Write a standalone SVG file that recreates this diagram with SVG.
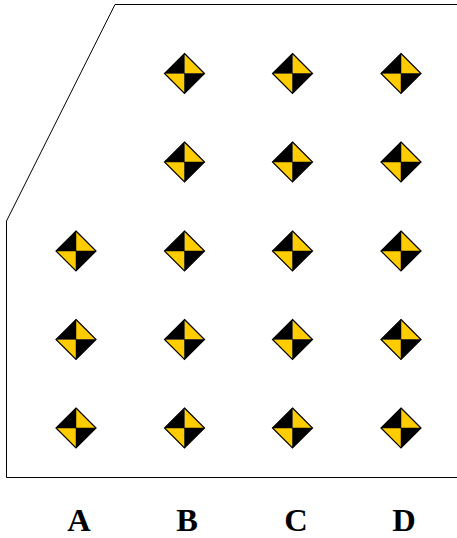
<svg xmlns="http://www.w3.org/2000/svg" width="457" height="538" viewBox="0 0 457 538">
<style>
.frame{fill:none;stroke:#000;stroke-width:1}
.k{fill:#000}
.y{fill:#ffcc00}
.o{fill:none;stroke:#000;stroke-width:1.2}
.c{fill:none;stroke:#000;stroke-width:.5}
.lab{font-family:"Liberation Serif",serif;font-weight:bold;font-size:32.5px;text-anchor:middle;fill:#000}
</style>
<defs>
<g id="m">
<path class="k" d="M0-20L-20 0H0Z"/>
<path class="y" d="M0-20L20 0H0Z"/>
<path class="y" d="M0 20L-20 0H0Z"/>
<path class="k" d="M0 20L20 0H0Z"/>
<path class="c" d="M0-20V20M-20 0H20"/>
<path class="o" d="M0-20L20 0L0 20L-20 0Z"/>
</g>
</defs>
<path id="frame" class="frame" d="M457 4.5H115L6.5 221V477.5H457"/>
<g id="r1b"><use href="#m" x="184.5" y="73.5"/></g>
<g id="r1c"><use href="#m" x="292.5" y="73.5"/></g>
<g id="r1d"><use href="#m" x="401" y="73.5"/></g>
<g id="r2b"><use href="#m" x="184.5" y="162"/></g>
<g id="r2c"><use href="#m" x="292.5" y="162"/></g>
<g id="r2d"><use href="#m" x="401" y="162"/></g>
<g id="r3a"><use href="#m" x="76" y="251"/></g>
<g id="r3b"><use href="#m" x="184.5" y="251"/></g>
<g id="r3c"><use href="#m" x="292.5" y="251"/></g>
<g id="r3d"><use href="#m" x="401" y="251"/></g>
<g id="r4a"><use href="#m" x="76" y="339.5"/></g>
<g id="r4b"><use href="#m" x="184.5" y="339.5"/></g>
<g id="r4c"><use href="#m" x="292.5" y="339.5"/></g>
<g id="r4d"><use href="#m" x="401" y="339.5"/></g>
<g id="r5a"><use href="#m" x="76" y="428"/></g>
<g id="r5b"><use href="#m" x="184.5" y="428"/></g>
<g id="r5c"><use href="#m" x="292.5" y="428"/></g>
<g id="r5d"><use href="#m" x="401" y="428"/></g>
<text class="lab" x="79" y="530.5">A</text>
<text class="lab" x="187" y="530.5">B</text>
<text class="lab" x="296" y="530.5">C</text>
<text class="lab" x="404" y="530.5">D</text>
</svg>
